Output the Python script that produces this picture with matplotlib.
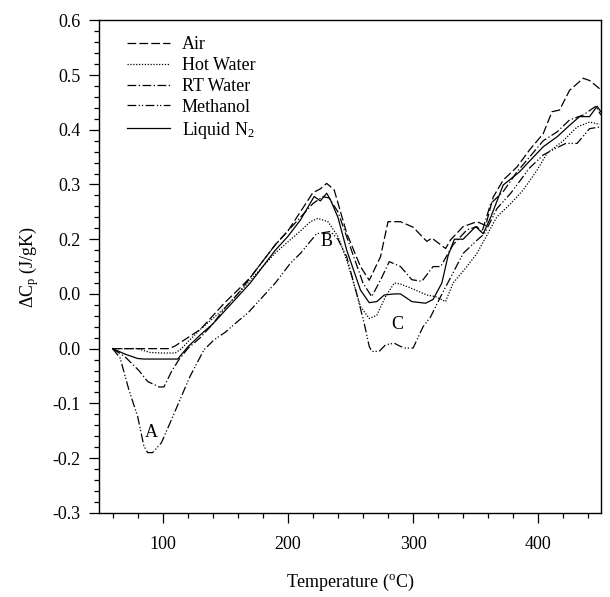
import matplotlib
matplotlib.use("Agg")
import matplotlib.pyplot as plt
from matplotlib.ticker import MultipleLocator, FixedLocator

plt.rcParams['font.family'] = ['Liberation Serif', 'DejaVu Serif']
plt.rcParams['mathtext.fontset'] = 'custom'
plt.rcParams['mathtext.rm'] = 'Liberation Serif'
plt.rcParams['mathtext.it'] = 'Liberation Serif:italic'

# ---- data ----
air_t = [60, 105, 110, 120, 130, 140, 150, 160, 170, 180, 190, 200, 210, 220, 226, 231, 237, 247, 258, 265,
         274, 280, 290, 300, 311, 315, 326, 330, 340, 351, 358, 364, 372, 383, 393, 404, 411, 417, 425, 436, 441, 449]
air_dcp = [0, 0, 0.005, 0.02, 0.035, 0.06, 0.085, 0.107, 0.13, 0.16, 0.19, 0.215, 0.25, 0.285, 0.292, 0.302, 0.29,
           0.211, 0.15, 0.125, 0.168, 0.232, 0.232, 0.222, 0.196, 0.202, 0.183, 0.199, 0.223, 0.232, 0.225, 0.277,
           0.308, 0.332, 0.363, 0.393, 0.433, 0.436, 0.472, 0.494, 0.49, 0.475]

hot_t = [60, 80, 90, 100, 110, 115, 120, 130, 140, 150, 160, 170, 180, 190, 200, 210, 218, 224, 232, 240, 247, 258,
         265, 271, 278, 285, 290, 299, 311, 318, 326, 332, 343, 351, 357, 367, 378, 388, 399, 407, 420, 431, 441, 449]
hot_dcp = [0, 0, -0.007, -0.008, -0.008, 0.0, 0.012, 0.035, 0.055, 0.075, 0.1, 0.125, 0.15, 0.175, 0.195, 0.215,
           0.232, 0.238, 0.232, 0.205, 0.162, 0.077, 0.055, 0.061, 0.095, 0.12, 0.118, 0.11, 0.098, 0.095, 0.086,
           0.12, 0.15, 0.174, 0.199, 0.241, 0.265, 0.29, 0.326, 0.357, 0.38, 0.405, 0.414, 0.41]

rt_t = [60, 70, 81, 88, 97, 101, 107, 113, 120, 130, 140, 150, 160, 170, 180, 190, 200, 210, 220, 228, 233, 240,
        250, 260, 267, 275, 281, 290, 299, 307, 316, 322, 332, 343, 351, 355, 362, 372, 383, 393, 404, 415, 425,
        436, 446, 450]
rt_dcp = [0, -0.015, -0.04, -0.06, -0.07, -0.07, -0.042, -0.02, 0.0, 0.02, 0.045, 0.075, 0.1, 0.13, 0.16, 0.19,
          0.215, 0.24, 0.265, 0.278, 0.275, 0.25, 0.185, 0.12, 0.095, 0.13, 0.159, 0.15, 0.126, 0.123, 0.15, 0.15,
          0.19, 0.217, 0.223, 0.213, 0.265, 0.287, 0.323, 0.35, 0.38, 0.396, 0.418, 0.427, 0.443, 0.427]

meth_t = [60, 66, 73, 80, 85, 88, 92, 99, 107, 115, 122, 133, 141, 150, 160, 168, 180, 190, 202, 210, 223, 234,
          240, 247, 255, 261, 265, 267, 273, 278, 285, 290, 294, 300, 308, 314, 322, 330, 340, 351, 357, 367, 378,
          393, 404, 413, 422, 431, 441, 449]
meth_dcp = [0, -0.017, -0.075, -0.124, -0.178, -0.19, -0.19, -0.172, -0.13, -0.087, -0.05, -0.002, 0.016, 0.03,
            0.05, 0.065, 0.095, 0.12, 0.156, 0.174, 0.21, 0.214, 0.2, 0.168, 0.1, 0.046, 0.004, -0.005, -0.005,
            0.007, 0.01, 0.004, 0.001, 0.001, 0.04, 0.058, 0.095, 0.13, 0.174, 0.198, 0.21, 0.256, 0.284, 0.33,
            0.354, 0.365, 0.375, 0.375, 0.402, 0.405]

ln2_t = [60, 70, 80, 85, 112, 120, 130, 140, 150, 160, 170, 180, 190, 200, 210, 221, 226, 231, 234, 240, 247, 258,
         265, 271, 277, 285, 290, 299, 310, 316, 323, 328, 333, 340, 350, 356, 362, 372, 385, 394, 404, 415, 425,
         433, 441, 447, 450]
ln2_dcp = [0, -0.01, -0.018, -0.019, -0.019, 0.003, 0.025, 0.045, 0.07, 0.095, 0.12, 0.15, 0.18, 0.205, 0.235,
           0.278, 0.27, 0.284, 0.272, 0.24, 0.18, 0.107, 0.084, 0.086, 0.098, 0.1, 0.1, 0.086, 0.083, 0.09, 0.12,
           0.17, 0.2, 0.2, 0.223, 0.21, 0.24, 0.299, 0.323, 0.345, 0.369, 0.387, 0.408, 0.424, 0.424, 0.443, 0.433]

series_labels = ['Air', 'Hot Water', 'RT Water', 'Methanol', 'Liquid N$_2$']

y_ticks = [-0.3, -0.2, -0.1, 0.0, 0.1, 0.2, 0.3, 0.4, 0.5, 0.6]
y_ticklabels = ['-0.3', '-0.2', '-0.1', '0.0', '0.0', '0.2', '0.3', '0.4', '0.5', '0.6']
x_ticks = [100, 200, 300, 400]

annotations = [('A', 91, -0.153), ('B', 231, 0.196), ('C', 287, 0.044)]

# ---- plot ----
fig = plt.figure(figsize=(6.1, 5.97), dpi=100)
ax = fig.add_axes([0.162, 0.141, 0.823, 0.825])

lw = 0.9
styles = [(0, (7, 2.5)), (0, (1, 1.3)), (0, (7, 2, 1, 2)), (0, (7, 2, 1, 1.5, 1, 2)), '-']
data = [(air_t, air_dcp), (hot_t, hot_dcp), (rt_t, rt_dcp), (meth_t, meth_dcp), (ln2_t, ln2_dcp)]
for (t, v), ls, lab in zip(data, styles, series_labels):
    ax.plot(t, v, color='black', lw=lw, linestyle=ls, label=lab)

for txt, x, y in annotations:
    ax.text(x, y, txt, fontsize=13, ha='center', va='center')

ax.set_xlim(49, 450)
ax.set_ylim(-0.3, 0.6)
ax.xaxis.set_major_locator(FixedLocator(x_ticks))
ax.xaxis.set_minor_locator(MultipleLocator(20))
ax.yaxis.set_major_locator(FixedLocator(y_ticks))
ax.set_yticklabels(y_ticklabels)
ax.yaxis.set_minor_locator(MultipleLocator(0.02))
ax.tick_params(which='major', direction='out', length=7, width=0.9, labelsize=13, pad=4)
ax.tick_params(which='minor', direction='out', length=3.5, width=0.9)
ax.tick_params(axis='x', pad=10)
ax.tick_params(axis='y', pad=6)
for s in ax.spines.values():
    s.set_linewidth(1.0)

ax.set_xlabel('Temperature ($^{\\mathrm{o}}$C)', fontsize=13, labelpad=13)
ax.set_ylabel('ΔC$_{\\mathrm{p}}$ (J/gK)', fontsize=13, labelpad=8)

leg = ax.legend(loc='upper left', frameon=False, fontsize=13, handlelength=2.4,
                handletextpad=0.65, labelspacing=0.22, borderaxespad=0.6,
                bbox_to_anchor=(0.02, 1.005))

fig.savefig('out.png', dpi=100)
